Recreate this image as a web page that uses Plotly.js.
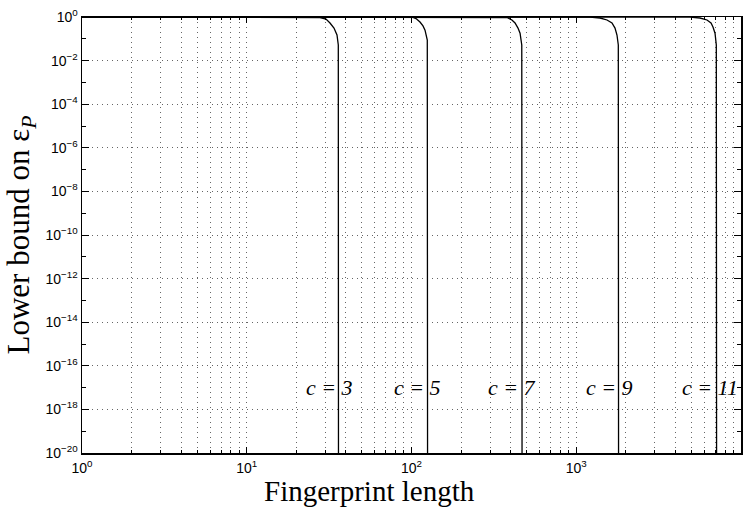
<!DOCTYPE html>
<html>
<head>
<meta charset="utf-8">
<script src="https://cdn.plot.ly/plotly-3.0.1.min.js"></script>
<style>html,body{margin:0;padding:0;background:#fff;}#chart{width:751px;height:509px;}</style>
</head>
<body>
<div id="chart"></div>
<script>
// Values
var c3X = [1, 25.97, 27.85, 30.27, 32.01, 33.85, 35.30, 35.95, 36.05];
var c3Y = [1, 1, 0.948, 0.81, 0.53, 0.31, 0.149, 0.052, 1e-22];
var c5X = [1, 100.7, 106.5, 112.6, 117.4, 120.8, 124.7, 125.2];
var c5Y = [1, 1, 0.85, 0.59, 0.39, 0.25, 0.088, 1e-22];
var c7X = [1, 344.6, 380, 407, 425, 443, 456, 467, 469];
var c7Y = [1, 1, 0.95, 0.73, 0.53, 0.31, 0.18, 0.052, 1e-22];
var c9X = [1, 1212, 1394, 1537, 1648, 1719, 1767, 1800, 1807];
var c9Y = [1, 1, 0.9, 0.73, 0.53, 0.31, 0.149, 0.052, 1e-22];
var c11X = [1, 4902, 5638, 6218, 6576, 6761, 6955, 7082, 7111];
var c11Y = [1, 1, 0.9, 0.73, 0.53, 0.35, 0.18, 0.052, 1e-22];

var curveLabels = ['c = 3', 'c = 5', 'c = 7', 'c = 9', 'c = 11'];
var labelX = [31.6, 108, 407, 1581, 6486];
var labelY = 1e-17;

var xTitle = 'Fingerprint length';
var yTitle = 'Lower bound on \u03b5<sub><i>P</i></sub>';

var xTickVals = [1, 10, 100, 1000, 10000];
var xTickText = ['10<sup>0</sup>', '10<sup>1</sup>', '10<sup>2</sup>', '10<sup>3</sup>', '10<sup>4</sup>'];
var yTickVals = [1e-20, 1e-18, 1e-16, 1e-14, 1e-12, 1e-10, 1e-8, 1e-6, 1e-4, 1e-2, 1];
var yTickText = ['10<sup>\u221220</sup>', '10<sup>\u221218</sup>', '10<sup>\u221216</sup>', '10<sup>\u221214</sup>',
  '10<sup>\u221212</sup>', '10<sup>\u221210</sup>', '10<sup>\u22128</sup>', '10<sup>\u22126</sup>',
  '10<sup>\u22124</sup>', '10<sup>\u22122</sup>', '10<sup>0</sup>'];

var series = [[c3X, c3Y], [c5X, c5Y], [c7X, c7Y], [c9X, c9Y], [c11X, c11Y]];
var traces = series.map(function (s) {
  return {x: s[0], y: s[1], type: 'scatter', mode: 'lines',
    line: {color: '#000', width: 1.3}, hoverinfo: 'skip'};
});

var serif = 'Liberation Serif, Times New Roman, serif';
var annotations = curveLabels.map(function (t, i) {
  return {x: Math.log10(labelX[i]), y: Math.log10(labelY), xref: 'x', yref: 'y',
    text: '<i>' + t + '</i>', showarrow: false,
    font: {family: serif, size: 22, color: '#000'},
    xanchor: 'center', yanchor: 'middle'};
});
// x-axis title (offset to the left as in the reference)
annotations.push({
  x: 0.437, y: -0.087, xref: 'paper', yref: 'paper', text: xTitle, showarrow: false,
  xanchor: 'center', yanchor: 'middle',
  font: {family: serif, size: 29, color: '#000'}
});

var gridDash = '1px,4px';
var tickFont = {family: 'Liberation Sans, Arial, sans-serif', size: 14, color: '#000'};
var layout = {
  width: 751, height: 509,
  margin: {l: 82, r: 10, t: 17, b: 56},
  paper_bgcolor: '#fff', plot_bgcolor: '#fff',
  showlegend: false, hovermode: false,
  xaxis: {
    type: 'log', range: [0, 4],
    tickmode: 'array', tickvals: xTickVals, ticktext: xTickText,
    ticks: 'inside', ticklen: 6, tickwidth: 1, tickcolor: '#000',
    showline: true, linecolor: '#000', linewidth: 1.5, mirror: 'ticks',
    showgrid: true, gridcolor: '#666', gridwidth: 1, griddash: gridDash,
    zeroline: false, ticklabelstandoff: 2,
    tickfont: tickFont,
    minor: {dtick: 'D1', ticks: 'inside', ticklen: 3, tickcolor: '#000', tickwidth: 1,
      showgrid: true, gridcolor: '#666', gridwidth: 1, griddash: gridDash}
  },
  yaxis: {
    type: 'log', range: [-20, 0],
    tickmode: 'array', tickvals: yTickVals, ticktext: yTickText,
    ticks: 'inside', ticklen: 7, tickwidth: 1, tickcolor: '#000',
    showline: true, linecolor: '#000', linewidth: 1.5, mirror: 'ticks',
    showgrid: true, gridcolor: '#666', gridwidth: 1, griddash: gridDash,
    zeroline: false,
    tickfont: tickFont,
    minor: {dtick: 1, ticks: 'inside', ticklen: 4, tickcolor: '#000', tickwidth: 1, showgrid: false},
    title: {text: yTitle, font: {family: serif, size: 31, color: '#000'}, standoff: 6}
  },
  annotations: annotations
};

Plotly.newPlot('chart', traces, layout, {displayModeBar: false, staticPlot: true});
</script>
</body>
</html>
